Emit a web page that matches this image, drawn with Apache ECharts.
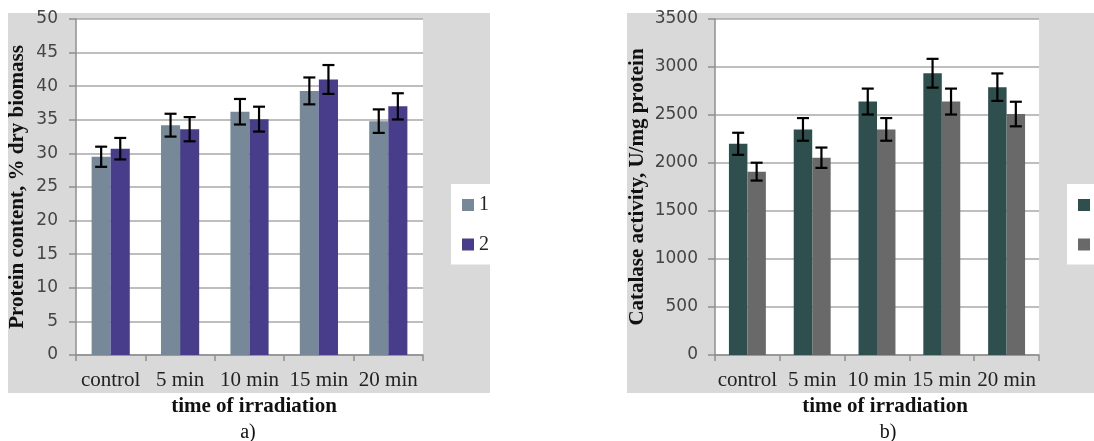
<!DOCTYPE html>
<html>
<head>
<meta charset="utf-8">
<script src="https://cdn.jsdelivr.net/npm/echarts@6/dist/echarts.min.js"></script>
<style>
  html, body { margin: 0; padding: 0; background: #ffffff; }
  #chart { width: 1094px; height: 441px; }
</style>
</head>
<body>
<div id="chart"></div>
<script>
// ---- Data ----
var categories = ['control', '5 min', '10 min', '15 min', '20 min'];

// a) Protein content, % dry biomass
var protein1 = [29.5, 34.2, 36.2, 39.3, 34.8];
var protein1Err = [1.5, 1.7, 1.9, 2.0, 1.75];
var protein2 = [30.7, 33.6, 35.1, 41.0, 37.0];
var protein2Err = [1.6, 1.8, 1.85, 2.15, 1.95];

// b) Catalase activity, U/mg protein
var catalase1 = [2200, 2350, 2640, 2935, 2790];
var catalase1Err = [115, 118, 135, 150, 143];
var catalase2 = [1910, 2055, 2350, 2640, 2510];
var catalase2Err = [93, 106, 118, 135, 128];

// ---- Helpers ----
function errData(vals, errs) {
  return vals.map(function (v, i) { return [i, v - errs[i], v + errs[i]]; });
}
function errRender(slot, gapRatio) {
  return function (params, api) {
    var x = api.value(0);
    var lo = api.coord([x, api.value(1)]);
    var hi = api.coord([x, api.value(2)]);
    var cw = api.size([1, 0])[0];
    var bw = cw * (1 - gapRatio) / 2;
    var cx = lo[0] + (slot - 0.5) * bw;
    var cap = 6;
    var st = { stroke: '#000', lineWidth: 2.2 };
    return {
      type: 'group',
      children: [
        { type: 'line', shape: { x1: cx, y1: hi[1], x2: cx, y2: lo[1] }, style: st },
        { type: 'line', shape: { x1: cx - cap, y1: hi[1], x2: cx + cap, y2: hi[1] }, style: st },
        { type: 'line', shape: { x1: cx - cap, y1: lo[1], x2: cx + cap, y2: lo[1] }, style: st }
      ]
    };
  };
}

var axisGray = '#8f8f8f';
var gridGray = '#a8a8a8';

function xAxisCfg(gi) {
  return {
    gridIndex: gi, type: 'category', data: categories,
    axisLine: { show: true, lineStyle: { color: axisGray, width: 1.5 } },
    axisTick: { show: true, length: 6, lineStyle: { color: axisGray, width: 1.5 } },
    axisLabel: { interval: 0, margin: 15, fontFamily: 'Liberation Serif', fontSize: 21, color: '#222' },
    splitLine: { show: false }
  };
}
function yAxisCfg(gi, max, interval, margin) {
  return {
    gridIndex: gi, type: 'value', min: 0, max: max, interval: interval,
    axisLine: { show: true, lineStyle: { color: axisGray, width: 1.5 } },
    axisTick: { show: true, length: 7, lineStyle: { color: axisGray, width: 1.5 } },
    axisLabel: { margin: margin, fontFamily: 'DejaVu Sans', fontSize: 17, color: '#454545',
                 formatter: function (v) { return String(v); } },
    splitLine: { show: true, lineStyle: { color: gridGray, width: 1.5 } }
  };
}

var gapA = 0.45, gapB = 0.43;

var chart = echarts.init(document.getElementById('chart'), null, { renderer: 'canvas' });
chart.setOption({
  backgroundColor: '#ffffff',
  animation: false,
  grid: [
    { left: 76, top: 19, width: 347, height: 336, show: true, backgroundColor: '#ffffff', borderWidth: 0 },
    { left: 715, top: 19, width: 324, height: 336, show: true, backgroundColor: '#ffffff', borderWidth: 0 }
  ],
  xAxis: [xAxisCfg(0), xAxisCfg(1)],
  yAxis: [yAxisCfg(0, 50, 5, 18), yAxisCfg(1, 3500, 500, 17)],
  legend: [
    {
      left: 451, top: 184, orient: 'vertical', backgroundColor: '#ffffff',
      padding: [11, 5, 10, 11], itemGap: 19.5, itemWidth: 12, itemHeight: 12, icon: 'rect',
      data: ['1', '2'],
      textStyle: { fontFamily: 'Liberation Serif', fontSize: 20, lineHeight: 20, color: '#222' }
    },
    {
      left: 1067, top: 184, orient: 'vertical', backgroundColor: '#ffffff',
      padding: [11, 5, 10, 11], itemGap: 19.5, itemWidth: 12, itemHeight: 12, icon: 'rect',
      data: ['b1', 'b2'],
      formatter: function (n) { return n.slice(1); },
      textStyle: { fontFamily: 'Liberation Serif', fontSize: 20, lineHeight: 20, color: '#222' }
    }
  ],
  graphic: [
    { type: 'rect', z: -100, shape: { x: 8, y: 13, width: 482, height: 380 }, style: { fill: '#d9d9d9' } },
    { type: 'rect', z: -100, shape: { x: 627, y: 13, width: 467, height: 380 }, style: { fill: '#d9d9d9' } },
    { type: 'text', x: 18, y: 187, rotation: Math.PI / 2,
      style: { text: 'Protein content, % dry biomass', align: 'center', verticalAlign: 'middle',
               font: 'bold 21px "Liberation Serif"', fill: '#111' } },
    { type: 'text', x: 638, y: 187, rotation: Math.PI / 2,
      style: { text: 'Catalase activity, U/mg protein', align: 'center', verticalAlign: 'middle',
               font: 'bold 21px "Liberation Serif"', fill: '#111' } },
    { type: 'text', x: 254, y: 407,
      style: { text: 'time of irradiation', align: 'center', verticalAlign: 'middle',
               font: 'bold 21px "Liberation Serif"', fill: '#111' } },
    { type: 'text', x: 885, y: 407,
      style: { text: 'time of irradiation', align: 'center', verticalAlign: 'middle',
               font: 'bold 21px "Liberation Serif"', fill: '#111' } },
    { type: 'text', x: 248, y: 433,
      style: { text: 'a)', align: 'center', verticalAlign: 'middle',
               font: '20px "Liberation Serif"', fill: '#111' } },
    { type: 'text', x: 888, y: 433,
      style: { text: 'b)', align: 'center', verticalAlign: 'middle',
               font: '20px "Liberation Serif"', fill: '#111' } }
  ],
  series: [
    { name: '1', type: 'bar', xAxisIndex: 0, yAxisIndex: 0, data: protein1,
      barGap: '0%', barCategoryGap: (gapA * 100) + '%', itemStyle: { color: '#778899' } },
    { name: '2', type: 'bar', xAxisIndex: 0, yAxisIndex: 0, data: protein2,
      barGap: '0%', barCategoryGap: (gapA * 100) + '%', itemStyle: { color: '#483D8B' } },
    { name: 'b1', type: 'bar', xAxisIndex: 1, yAxisIndex: 1, data: catalase1,
      barGap: '0%', barCategoryGap: (gapB * 100) + '%', itemStyle: { color: '#2F4F4F' } },
    { name: 'b2', type: 'bar', xAxisIndex: 1, yAxisIndex: 1, data: catalase2,
      barGap: '0%', barCategoryGap: (gapB * 100) + '%', itemStyle: { color: '#696969' } },
    { type: 'custom', xAxisIndex: 0, yAxisIndex: 0, z: 10, renderItem: errRender(0, gapA),
      encode: { x: 0, y: [1, 2] }, data: errData(protein1, protein1Err) },
    { type: 'custom', xAxisIndex: 0, yAxisIndex: 0, z: 10, renderItem: errRender(1, gapA),
      encode: { x: 0, y: [1, 2] }, data: errData(protein2, protein2Err) },
    { type: 'custom', xAxisIndex: 1, yAxisIndex: 1, z: 10, renderItem: errRender(0, gapB),
      encode: { x: 0, y: [1, 2] }, data: errData(catalase1, catalase1Err) },
    { type: 'custom', xAxisIndex: 1, yAxisIndex: 1, z: 10, renderItem: errRender(1, gapB),
      encode: { x: 0, y: [1, 2] }, data: errData(catalase2, catalase2Err) }
  ]
});
</script>
</body>
</html>
